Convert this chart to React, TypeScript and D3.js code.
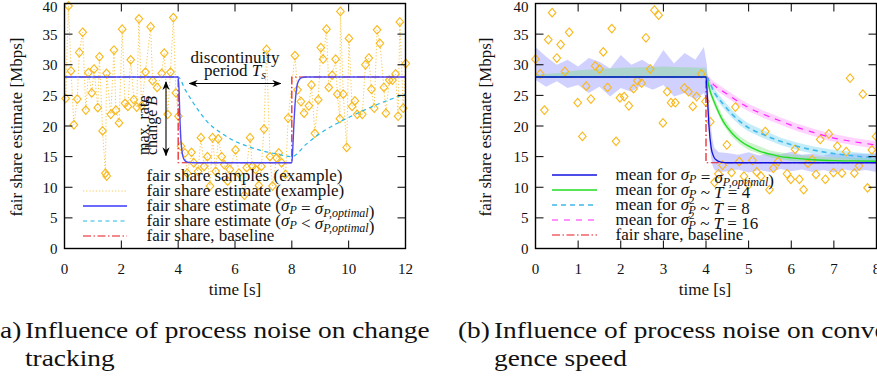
import * as d3 from "d3";

// ---- data ----
const yTicks = [0, 5, 10, 15, 20, 25, 30, 35, 40];
const xTicksA = [0, 2, 4, 6, 8, 10, 12];
const xTicksB = [0, 1, 2, 3, 4, 5, 6, 7, 8];

// (a) samples: [time s, Mbps]
const samplesA: [number, number][] = [
  [0.04, 24.5], [0.14, 39.6], [0.23, 29.0], [0.33, 20.2], [0.45, 24.4], [0.52, 32.0], [0.64, 35.3],
  [0.75, 22.6], [0.84, 28.7], [0.96, 25.4], [1.04, 29.3], [1.17, 23.0], [1.23, 31.3], [1.34, 19.2],
  [1.44, 12.3], [1.48, 28.6], [1.63, 21.9], [1.74, 32.4], [1.81, 22.6], [1.92, 20.5], [2.03, 35.8],
  [2.13, 23.7], [2.23, 23.2], [2.33, 30.8], [2.44, 24.3], [2.54, 23.1], [2.62, 37.5], [2.71, 23.3],
  [2.85, 28.8], [3.03, 36.2], [3.10, 27.4], [3.26, 26.3], [3.42, 28.6], [3.51, 31.9], [3.63, 21.9],
  [3.73, 28.8], [3.83, 37.7], [3.92, 25.4], [4.01, 21.6], [4.10, 16.7], [4.24, 15.6], [4.32, 12.3],
  [4.47, 15.7], [4.55, 14.0], [4.70, 12.6], [4.80, 18.1], [4.91, 13.4], [5.03, 15.0], [5.12, 10.2],
  [5.21, 18.1], [5.32, 12.6], [5.41, 17.9], [5.53, 15.0], [5.62, 13.7], [5.74, 11.0], [5.82, 12.9],
  [6.02, 16.1], [6.14, 12.3], [6.33, 8.7], [6.41, 13.2], [6.53, 18.1], [6.61, 13.4], [6.72, 12.9],
  [6.84, 10.3], [6.93, 13.4], [7.02, 19.5], [7.11, 32.5], [7.23, 15.0], [7.32, 10.2], [7.46, 14.8],
  [7.54, 15.6], [7.64, 14.0], [7.78, 12.1], [7.87, 21.3], [8.11, 31.5], [8.20, 25.9], [8.32, 24.0],
  [8.43, 22.1], [8.60, 23.3], [8.69, 26.7], [8.81, 18.8], [8.93, 24.3], [9.02, 32.8], [9.10, 30.9],
  [9.22, 35.8], [9.30, 26.3], [9.42, 28.3], [9.54, 30.9], [9.60, 25.2], [9.69, 21.2], [9.71, 38.7],
  [9.81, 25.2], [9.93, 16.5], [10.01, 34.3], [10.12, 23.2], [10.22, 24.1], [10.30, 21.9], [10.48, 21.9],
  [10.59, 30.0], [10.71, 31.1], [10.80, 26.0], [10.90, 22.9], [11.00, 35.7], [11.10, 33.5], [11.24, 26.3],
  [11.31, 22.1], [11.43, 27.5], [11.54, 27.5], [11.65, 28.5], [11.74, 21.6], [11.80, 37.0], [11.92, 22.9],
  [12.01, 30.2],
];

const optimalA: [number, number][] = [
  [0, 28], [4, 28], [4.03, 26], [4.06, 21.5], [4.1, 17.5], [4.15, 15.4], [4.2, 14.6], [4.3, 14.15],
  [4.45, 14.02], [4.6, 14], [8, 14], [8.03, 16], [8.07, 20], [8.12, 24], [8.18, 26.5], [8.25, 27.5],
  [8.35, 27.9], [8.5, 28], [12, 28],
];

const slowA: [number, number][] = [
  [0, 28], [4, 28], [4.25, 25.9], [4.5, 24], [4.75, 22.3], [5, 20.8], [5.5, 18.9], [6, 17.5],
  [6.5, 16.6], [7, 15.9], [7.5, 15.4], [8, 15], [8.5, 17], [9, 18.8], [9.5, 20.2], [10, 21.4],
  [10.5, 22.5], [11, 23.5], [11.5, 24.4], [12, 25.2],
];

const baselineA: [number, number][] = [[0, 28], [4, 28], [4, 14], [8, 14], [8, 28], [12, 28]];

// (b) samples
const samplesB: [number, number][] = [
  [0.0, 30.9], [0.11, 28.5], [0.21, 22.6], [0.30, 34.1], [0.39, 38.5], [0.50, 31.1], [0.59, 33.3],
  [0.69, 28.9], [0.79, 35.3], [0.99, 23.8], [1.10, 18.3], [1.19, 26.5], [1.30, 24.4], [1.40, 29.8],
  [1.50, 29.3], [1.59, 32.1], [1.69, 26.3], [1.79, 35.9], [1.89, 17.5], [1.98, 24.6], [2.08, 24.8],
  [2.19, 23.3], [2.30, 26.1], [2.39, 27.4], [2.49, 27.0], [2.59, 34.4], [2.69, 29.3], [2.79, 38.9],
  [2.89, 38.1], [2.99, 20.5], [3.09, 25.6], [3.18, 23.8], [3.28, 23.8], [3.49, 26.2], [3.59, 25.6],
  [3.69, 23.2], [3.78, 24.8], [3.89, 28.5], [3.99, 24.0], [4.10, 20.7], [4.20, 10.8], [4.29, 12.2],
  [4.39, 13.6], [4.49, 16.9], [4.60, 12.4], [4.69, 23.1], [4.78, 14.2], [4.89, 11.8], [5.00, 10.4],
  [5.09, 14.4], [5.19, 12.5], [5.29, 11.8], [5.39, 19.1], [5.49, 9.6], [5.58, 13.1], [5.69, 14.2],
  [5.90, 12.2], [5.99, 11.3], [6.09, 16.2], [6.19, 11.3], [6.29, 9.6], [6.39, 13.9], [6.49, 14.5],
  [6.58, 12.1], [6.68, 17.8], [6.80, 11.3], [6.88, 18.7], [6.99, 12.4], [7.08, 16.7], [7.19, 12.3],
  [7.29, 15.8], [7.38, 27.8], [7.48, 12.3], [7.59, 13.5], [7.68, 25.2], [7.79, 9.9], [7.89, 16.1],
  [7.99, 18.3],
];

const optimalB: [number, number][] = [
  [0, 28], [4, 28], [4.03, 25], [4.07, 20], [4.12, 16.5], [4.18, 15], [4.25, 14.4], [4.35, 14.1],
  [4.5, 14], [8, 14],
];
const t4B: [number, number][] = [
  [0, 28], [4, 28], [4.1, 25.6], [4.2, 23.8], [4.4, 20.8], [4.6, 18.9], [4.8, 17.6], [5, 16.7],
  [5.25, 15.9], [5.5, 15.4], [5.75, 15], [6, 14.8], [6.5, 14.5], [7, 14.35], [7.5, 14.3], [8, 14.25],
];
const t8B: [number, number][] = [
  [0, 28], [4, 28], [4.2, 25.4], [4.4, 23.6], [4.6, 22], [4.8, 20.7], [5, 19.7], [5.35, 18.6],
  [5.75, 17.5], [6.13, 16.7], [6.5, 16.1], [6.9, 15.6], [7.5, 15.1], [8, 14.8],
];
const t16B: [number, number][] = [
  [0, 28], [4, 28], [4.2, 26.6], [4.5, 25.2], [4.8, 23.8], [5, 23], [5.35, 21.9], [5.75, 20.8],
  [6.13, 19.8], [6.5, 19], [6.9, 18.2], [7.5, 17.4], [8, 16.9],
];
const baselineB: [number, number][] = [[0, 28], [4, 28], [4, 14], [8, 14]];

// spread bands: [time, low, high]
const bandOptB: [number, number, number][] = [
  [0, 27.5, 32.9], [0.25, 26.4, 31.3], [0.5, 27.3, 30], [0.75, 26.2, 30.8], [1, 26.7, 29.7],
  [1.25, 25.4, 31.1], [1.5, 26.4, 30.5], [1.75, 24.8, 29.4], [2, 26.2, 31.6], [2.25, 25.6, 30],
  [2.5, 26.7, 30.8], [2.75, 25.9, 29.7], [3, 26.7, 32.4], [3.25, 24.8, 30.2], [3.5, 25.4, 31.9],
  [3.75, 24.3, 30.8], [3.95, 25.4, 32.9], [4.02, 24, 30], [4.06, 19.5, 25], [4.1, 15.8, 21],
  [4.15, 13.6, 17.8], [4.2, 12.8, 16.4], [4.3, 12.5, 15.7], [4.5, 12.6, 15.6], [4.75, 12.9, 15.3],
  [5, 12.4, 15.7], [5.25, 12.8, 15.2], [5.5, 12.5, 15.6], [5.75, 13, 15.4], [6, 12.6, 15.8],
  [6.25, 12.9, 15.3], [6.5, 12.5, 15.5], [6.75, 12.8, 15.2], [7, 12.4, 15.6], [7.25, 12.9, 15.3],
  [7.5, 12.6, 15.5], [7.75, 12.8, 15.4], [8, 12.5, 15.6],
];
const bandT4B: [number, number, number][] = [
  [0, 27.9, 28.4], [0.5, 27.9, 28.6], [1, 27.9, 29.1], [1.5, 28, 29.3], [2, 28, 29.5], [2.5, 28, 29.6],
  [3, 28, 29.7], [3.5, 28, 29.6], [4, 27.9, 29.5], [4.1, 25, 26.3], [4.2, 23.2, 24.5], [4.4, 20.2, 21.5],
  [4.6, 18.3, 19.6], [4.8, 17, 18.3], [5, 16.1, 17.4], [5.5, 14.9, 16], [6, 14.3, 15.4],
  [6.5, 14.1, 15.1], [7, 14, 14.9], [7.5, 14, 14.8], [8, 14, 14.7],
];
const bandT8B: [number, number, number][] = [
  [4, 27.6, 28.4], [4.2, 24.8, 26], [4.4, 23, 24.3], [4.6, 21.4, 22.7], [4.8, 20.1, 21.4], [5, 19.1, 20.4],
  [5.35, 18, 19.3], [5.75, 16.9, 18.1], [6.13, 16.1, 17.3], [6.5, 15.5, 16.7], [6.9, 15, 16.2],
  [7.5, 14.5, 15.7], [8, 14.2, 15.4],
];
const bandT16B: [number, number, number][] = [
  [4, 27.6, 28.4], [4.2, 26, 27.2], [4.5, 24.6, 25.8], [4.8, 23.2, 24.4], [5, 22.4, 23.6],
  [5.35, 21.3, 22.5], [5.75, 20.2, 21.4], [6.13, 19.2, 20.4], [6.5, 18.4, 19.6], [6.9, 17.6, 18.8],
  [7.5, 16.8, 18], [8, 16.3, 17.5],
];

// ---- layout ----
const FONT = "'Liberation Serif', 'Times New Roman', serif";
const y = d3.scaleLinear().domain([0, 40]).range([248.5, 3.5]);
const xA = d3.scaleLinear().domain([0, 12]).range([64.5, 405.5]);
const xB = d3.scaleLinear().domain([0, 8]).range([535.5, 876.5]);

const ORANGE = "#f9b81b";
const RED = "#e8141c";
const CAP_SX = 1.14; // caption glyph stretch

function lineFor(x: d3.ScaleLinear<number, number>, curve = d3.curveLinear) {
  return d3.line<[number, number]>().x((d) => x(d[0])).y((d) => y(d[1])).curve(curve);
}
function areaFor(x: d3.ScaleLinear<number, number>) {
  return d3
    .area<[number, number, number]>()
    .x((d) => x(d[0]))
    .y0((d) => y(d[1]))
    .y1((d) => y(d[2]));
}

function diamond(cx: number, cy: number) {
  return `M${cx},${cy - 4.3}L${cx + 3.8},${cy}L${cx},${cy + 4.3}L${cx - 3.8},${cy}Z`;
}

function Frame({ x, ticks }: { x: d3.ScaleLinear<number, number>; ticks: number[] }) {
  const [x0, x1] = x.range();
  const y0 = y(0), y1 = y(40);
  const tl = 8;
  return (
    <g>
      {ticks.map((t) => (
        <g key={"x" + t}>
          <line x1={x(t)} x2={x(t)} y1={y0} y2={y0 - tl} stroke="#000" strokeWidth={1} />
          <line x1={x(t)} x2={x(t)} y1={y1} y2={y1 + tl} stroke="#000" strokeWidth={1} />
          <text x={x(t)} y={274} textAnchor="middle" fontSize={15}>{t}</text>
        </g>
      ))}
      {yTicks.map((t) => (
        <g key={"y" + t}>
          <line x1={x0} x2={x0 + tl} y1={y(t)} y2={y(t)} stroke="#000" strokeWidth={1} />
          <line x1={x1} x2={x1 - tl} y1={y(t)} y2={y(t)} stroke="#000" strokeWidth={1} />
          <text x={x0 - 7} y={Math.max(y(t) + 5.5, 12)} textAnchor="end" fontSize={15}>{t}</text>
        </g>
      ))}
      <rect x={x0} y={y1} width={x1 - x0} height={y0 - y1} fill="none" stroke="#000" strokeWidth={1.4} />
    </g>
  );
}

function Sub({ children }: { children: string }) {
  return (
    <>
      <tspan fontStyle="italic" fontSize={12} dy={3}>{children}</tspan>
      <tspan dy={-3}>{""}</tspan>
    </>
  );
}

function Sigma2() {
  return (
    <>
      <tspan fontStyle="italic">σ</tspan>
      <tspan fontSize={11} dy={-6}>2</tspan>
      <tspan fontStyle="italic" fontSize={12} dx={-6} dy={10}>P</tspan>
      <tspan dy={-4}>{""}</tspan>
    </>
  );
}

export default function App() {
  const lA = lineFor(xA);
  const lAs = lineFor(xA, d3.curveMonotoneX);
  const lB = lineFor(xB);
  const lBs = lineFor(xB, d3.curveMonotoneX);
  const aB = areaFor(xB);
  const arrowId = "arr";

  return (
    <svg
      width={877}
      height={383}
      style={{ position: "absolute", left: 0, top: 0, display: "block", background: "#fff", fontFamily: FONT }}
      fill="#111"
    >
      <defs>
        <marker id={arrowId} viewBox="0 0 10 10" refX={9} refY={5} markerWidth={9} markerHeight={9} orient="auto-start-reverse" markerUnits="userSpaceOnUse">
          <path d="M0,1 L10,5 L0,9 L3,5 Z" fill="#000" />
        </marker>
      </defs>

      {/* ===== panel (a) ===== */}
      <path d={lA(samplesA) ?? ""} fill="none" stroke="#fbc84d" strokeWidth={1} strokeDasharray="1.2,2" />
      {samplesA.map((d, i) => (
        <path key={i} d={diamond(xA(d[0]), y(d[1]))} fill="none" stroke={ORANGE} strokeWidth={1.1} />
      ))}
      <path d={lA(baselineA) ?? ""} fill="none" stroke={RED} strokeWidth={1.2} strokeDasharray="8,2.5,1.5,2.5" />
      <path d={lAs(slowA) ?? ""} fill="none" stroke="#22b8ea" strokeWidth={1.2} strokeDasharray="4,3.5" />
      <path d={lAs(optimalA) ?? ""} fill="none" stroke="#4b4bf5" strokeWidth={1.4} />

      {/* annotations */}
      <text x={235} y={63} textAnchor="middle" fontSize={17}>discontinuity</text>
      <text x={235} y={76} textAnchor="middle" fontSize={17}>
        period <tspan fontStyle="italic">T</tspan><tspan fontStyle="italic" fontSize={12} dy={3}>s</tspan>
      </text>
      <line x1={xA(4.4)} x2={xA(7.6)} y1={83.5} y2={83.5} stroke="#000" strokeWidth={1.1} markerStart={`url(#${arrowId})`} markerEnd={`url(#${arrowId})`} />
      <line x1={166} x2={166} y1={y(27.2)} y2={y(15.2)} stroke="#000" strokeWidth={1.1} markerStart={`url(#${arrowId})`} markerEnd={`url(#${arrowId})`} />
      <text transform="translate(149,155) rotate(-90)" fontSize={16}>max. rate</text>
      <text transform="translate(157,155) rotate(-90)" fontSize={16}>
        change <tspan fontStyle="italic">B</tspan>
      </text>

      <Frame x={xA} ticks={xTicksA} />
      <text transform="translate(22,127) rotate(-90)" textAnchor="middle" fontSize={17}>fair share estimate [Mbps]</text>
      <text x={235} y={295} textAnchor="middle" fontSize={17}>time [s]</text>

      {/* legend (a) */}
      <g fontSize={17}>
        <path d={diamond(106.7, 176)} fill="none" stroke={ORANGE} strokeWidth={1.1} />
        <text x={146.5} y={181}>fair share samples (example)</text>
        <line x1={83} x2={127} y1={191} y2={191} stroke="#fbc84d" strokeWidth={1} strokeDasharray="1.2,2" />
        <text x={146.5} y={196}>fair share estimate (example)</text>
        <line x1={83} x2={127} y1={206} y2={206} stroke="#6a6aff" strokeWidth={2} />
        <text x={146.5} y={211}>
          fair share estimate (<tspan fontStyle="italic">σ</tspan><Sub>P</Sub>{" = "}<tspan fontStyle="italic">σ</tspan><Sub>P,optimal</Sub>)
        </text>
        <line x1={83} x2={127} y1={221} y2={221} stroke="#22b8ea" strokeWidth={1.2} strokeDasharray="4,3.5" />
        <text x={146.5} y={226}>
          fair share estimate (<tspan fontStyle="italic">σ</tspan><Sub>P</Sub>{" < "}<tspan fontStyle="italic">σ</tspan><Sub>P,optimal</Sub>)
        </text>
        <line x1={83} x2={127} y1={236} y2={236} stroke={RED} strokeWidth={1.2} strokeDasharray="8,2.5,1.5,2.5" />
        <text x={146.5} y={241}>fair share, baseline</text>
      </g>

      {/* ===== panel (b) ===== */}
      <path d={aB(bandOptB) ?? ""} fill="#8c8cff" fillOpacity={0.4} stroke="none" />
      <path d={aB(bandT4B) ?? ""} fill="#66dd66" fillOpacity={0.33} stroke="none" />
      <path d={aB(bandT8B) ?? ""} fill="#66ccee" fillOpacity={0.38} stroke="none" />
      <path d={aB(bandT16B) ?? ""} fill="#ff77ff" fillOpacity={0.33} stroke="none" />
      {samplesB.map((d, i) => (
        <path key={i} d={diamond(xB(d[0]), y(d[1]))} fill="none" stroke={ORANGE} strokeWidth={1.1} />
      ))}
      <path d={lB(baselineB) ?? ""} fill="none" stroke={RED} strokeWidth={1.2} strokeDasharray="8,2.5,1.5,2.5" />
      <path d={lBs(t16B) ?? ""} fill="none" stroke="#ff22ff" strokeWidth={1.2} strokeDasharray="6,6" />
      <path d={lBs(t8B) ?? ""} fill="none" stroke="#3fb8ec" strokeWidth={1.6} strokeDasharray="5,4" />
      <path d={lBs(t4B) ?? ""} fill="none" stroke="#22dd22" strokeWidth={1.4} />
      <path d={lBs(optimalB) ?? ""} fill="none" stroke="#1010e0" strokeWidth={1.3} />

      <Frame x={xB} ticks={xTicksB} />
      <text transform="translate(491,127) rotate(-90)" textAnchor="middle" fontSize={17}>fair share estimate [Mbps]</text>
      <text x={705} y={295} textAnchor="middle" fontSize={17}>time [s]</text>

      {/* legend (b) */}
      <g fontSize={17}>
        <line x1={552} x2={597} y1={175} y2={175} stroke="#1010e0" strokeWidth={1.3} />
        <text x={615.5} y={180}>
          mean for <tspan fontStyle="italic">σ</tspan><Sub>P</Sub>{" = "}<tspan fontStyle="italic">σ</tspan><Sub>P,optimal</Sub>)
        </text>
        <line x1={552} x2={597} y1={190} y2={190} stroke="#22dd22" strokeWidth={1.4} />
        <text x={615.5} y={195}>
          mean for <tspan fontStyle="italic">σ</tspan><Sub>P</Sub>{" ~ "}<tspan fontStyle="italic">T</tspan>{" = 4"}
        </text>
        <line x1={552} x2={597} y1={205} y2={205} stroke="#3fb8ec" strokeWidth={1.6} strokeDasharray="5,4" />
        <text x={615.5} y={210}>
          mean for <Sigma2 />{" ~ "}<tspan fontStyle="italic">T</tspan>{" = 8"}
        </text>
        <line x1={552} x2={597} y1={220} y2={220} stroke="#ff22ff" strokeWidth={1.2} strokeDasharray="6,6" />
        <text x={615.5} y={225}>
          mean for <Sigma2 />{" ~ "}<tspan fontStyle="italic">T</tspan>{" = 16"}
        </text>
        <line x1={552} x2={597} y1={235} y2={235} stroke={RED} strokeWidth={1.2} strokeDasharray="8,2.5,1.5,2.5" />
        <text x={615.5} y={240}>fair share, baseline</text>
      </g>

      {/* captions */}
      <g fontSize={24} transform={`scale(${CAP_SX},1)`}>
        <text x={-9 / CAP_SX} y={338}>(a)</text>
        <text x={25 / CAP_SX} y={338}>Influence of process noise on change</text>
        <text x={25 / CAP_SX} y={366}>tracking</text>
        <text x={458 / CAP_SX} y={338}>(b)</text>
        <text x={494 / CAP_SX} y={338}>Influence of process noise on conver-</text>
        <text x={494 / CAP_SX} y={366}>gence speed</text>
      </g>
    </svg>
  );
}
